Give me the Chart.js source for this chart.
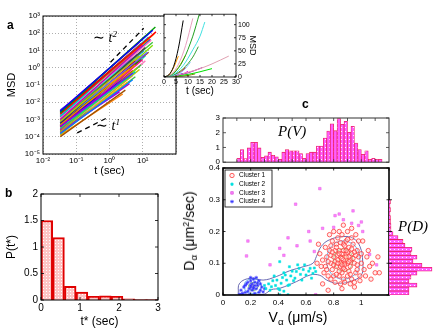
<!DOCTYPE html>
<html>
<head>
<meta charset="utf-8">
<script src="https://cdn.jsdelivr.net/npm/chart.js@4.4.1/dist/chart.umd.min.js"></script>
<style>
body{margin:0;background:#fff;width:443px;height:332px;position:relative;overflow:hidden}
canvas{position:absolute}
.s{position:absolute;font-family:"Liberation Sans",Arial,sans-serif;line-height:1;white-space:nowrap;color:#000}
.m{font-family:"Liberation Serif","Times New Roman",serif;font-style:italic}
.up{font-size:0.65em;position:relative;top:-0.55em}
.dn{font-size:0.7em;position:relative;top:0.35em}
</style>
</head>
<body>
<canvas id="ca" width="180" height="182" style="left:0;top:0"></canvas>
<canvas id="ci" width="100" height="92" style="left:160px;top:8px"></canvas>
<canvas id="cb" width="165" height="147" style="left:0;top:185px"></canvas>
<canvas id="cv" width="215" height="60" style="left:180px;top:110px"></canvas>
<canvas id="cs" width="215" height="172" style="left:180px;top:160px"></canvas>
<canvas id="cd" width="58" height="172" style="left:385px;top:160px"></canvas>

<div class="s" style="left:7px;top:19px;font-size:12px;font-weight:bold">a</div>
<div class="s" style="left:5px;top:187px;font-size:12px;font-weight:bold">b</div>
<div class="s" style="left:302px;top:98px;font-size:12px;font-weight:bold">c</div>
<div class="s m" style="left:93px;top:31px;font-size:14px"><span style="font-style:normal">∼</span> t<span class="up">2</span></div>
<div class="s m" style="left:96px;top:119px;font-size:14px"><span style="font-style:normal">∼</span> t<span class="up">1</span></div>
<div class="s m" style="left:278px;top:124px;font-size:15px">P(V)</div>
<div class="s m" style="left:398px;top:219px;font-size:15px">P(D)</div>
<div class="s" style="left:189px;top:231px;font-size:14px;transform:translate(-50%,-50%) rotate(-90deg)">D<span class="dn">α</span> (μm<span class="up">2</span>/sec)</div>
<div class="s" style="left:298px;top:310px;font-size:14px;transform:translateX(-50%)">V<span class="dn">α</span> (μm/s)</div>

<script>
// ---- panel a : MSD curves, log-log  [t start, msd start, t end, msd end]
const msdLines = [
  [0.033,3e-3,20,150],[0.033,2.5e-3,24,230],[0.033,2e-3,25,120],[0.033,1.5e-3,15,60],
  [0.033,1e-3,10,20],[0.033,8e-4,8,5],[0.033,6e-4,12,15],[0.033,5e-4,6,1.5],
  [0.033,4e-4,5,0.5],[0.033,3e-4,4,0.3],[0.033,2.5e-4,10,3],[0.033,2e-4,7,1],
  [0.033,1.5e-4,5,0.2],[0.033,1e-4,3,0.05],[0.033,1.2e-3,18,40],[0.033,9e-4,20,30],
  [0.033,7e-4,14,8],[0.033,2.2e-3,9,25],[0.033,1.8e-3,6,4],[0.033,1.1e-3,4,0.8],
  [0.033,6e-4,3,0.25],[0.033,5e-4,9,3],[0.033,3.5e-4,12,6],[0.033,2.8e-4,6,0.6],
  [0.033,1.8e-4,4,0.12],[0.033,1.3e-4,8,0.8],[0.033,2.6e-3,12,70],[0.033,1.6e-3,22,90],
  [0.033,1.4e-3,7,6],[0.033,7.5e-4,5,1.2],[0.033,4.5e-4,4.5,0.4],[0.04,1.3e-3,16,50],
  [0.04,9e-4,11,10],[0.04,6e-4,7,2],[0.04,3e-4,5,0.35],[0.04,2e-4,9,1.5],
  [0.05,1.5e-3,13,35],[0.05,1e-3,6,2.5],[0.05,5e-4,10,4],[0.05,3e-4,3.5,0.15],
  [0.066,2e-3,17,45],[0.066,1e-3,8,3],[0.066,6e-4,5,0.7],[0.066,4e-4,12,5],
  [0.033,3.2e-3,8,30],[0.033,2.9e-3,5,6],[0.033,1.9e-3,3,1.2],[0.033,1.2e-4,2.5,0.03],
  [0.033,2.2e-4,2,0.04],[0.033,9e-4,2.5,0.3],[0.04,1.7e-3,4,2],[0.05,7e-4,20,20],
  [0.033,3.5e-3,4,4],[0.033,4e-4,15,8],[0.033,2.4e-4,12,2.5],[0.033,1.7e-4,6,0.3]
];
const slopeTwo = [[1.07,2.1],[10.7,195]];
const slopeOne = [[0.107,1.66e-4],[0.93,1.38e-3]];
const msdTicks = [1e-5,1e-4,1e-3,1e-2,1e-1,1,10,100,1000];
const msdTickLabels = ['10⁻⁵','10⁻⁴','10⁻³','10⁻²','10⁻¹','10⁰','10¹','10²','10³'];
const tTicks = [0.01,0.1,1,10,100];
const tTickLabels = ['10⁻²','10⁻¹','10⁰','10¹',''];
const palette = ['#0000ff','#00a000','#ff0000','#00c0c0','#c000c0','#c0c000','#404040','#ff8000',
  '#8000ff','#00e080','#ff0080','#80e000','#0080ff','#a05000','#ff80c0','#40c040','#6060ff',
  '#c00000','#00ffff','#ffb000'];

// ---- inset : linear MSD
const insetCurves = [
  [[0,0],[2,4],[4,20],[6,55],[8,108]],
  [[0,0],[3,5],[6,24],[9,60],[12,112]],
  [[0,0],[4,7],[8,32],[12,78],[14.7,120]],
  [[0,0],[4,5],[8,22],[12,52],[15,78],[17,105]],
  [[0,0],[2,4],[4,18],[6,40]],
  [[0,0],[3,4],[6,18],[9,42]],
  [[0,0],[4,4],[8,16],[12,38],[14.3,58]],
  [[0,0],[4,3],[8,12],[11,28]],
  [[0,0],[5,3],[10,9],[15,16],[20,25],[27,40]],
  [[0,0],[5,3],[10,8],[16,18]],
  [[0,0],[5,2],[10,5],[15,10],[20,16]],
  [[0,0],[4,3],[7,10],[9,18]],
  [[0,0],[5,1],[10,3],[13,6]],
  [[0,0],[3,1],[6,4],[8,7]],
  [[0,0],[4,2],[8,6],[10,11]]
];
const insetColors = ['#000000','#e8a0c0','#20a020','#40e0e0','#ff9900','#c0c000','#30a030','#80c0ff',
  '#e0a0b0','#a000a0','#00e000','#ff0000','#808000','#0000ff','#ff00ff'];

// ---- panel b : P(t*)
const tStarCenters = [0.15,0.45,0.75,1.05,1.35,1.65,1.95,2.25,2.55,2.85];
const tStarP = [1.5,1.18,0.26,0.15,0.07,0.08,0.07,0.02,0.01,0.01];
const pTicks = [0,0.5,1,1.5,2];
const pTickLabels = ['0','0.5','1','1.5','2'];

// ---- panel c : P(V), P(D), scatter
const pV = [0.27,0.86,0.25,0.97,1.35,1.35,0.97,0.33,0.43,0.68,0.47,0.37,0.2,0.68,0.86,0.78,0.78,
  0.78,0.58,0.27,0.58,0.68,0.68,1.1,1.1,1.64,2.12,2.6,2.14,2.96,2.57,2.77,2.03,2.44,1.3,0.86,
  0.53,0.78,0.2,0.27,0.2,0.2];
const pD = [20,20,28,20,22,28,43,33,24,28,22,23,16,14,9,4,2,2,1.5,1.5,1,1.5,1,1.5];

const cluster1 = [[0.87,0.11],[0.85,0.12],[0.9,0.1],[0.82,0.09],[0.93,0.13],[0.88,0.08],[0.8,0.12],
  [0.95,0.1],[0.84,0.14],[0.91,0.15],[0.86,0.07],[0.78,0.1],[0.98,0.12],[0.89,0.13],[0.83,0.11],
  [0.92,0.09],[0.81,0.14],[0.96,0.07],[0.87,0.16],[0.75,0.12],[0.9,0.06],[0.84,0.06],[0.79,0.08],
  [1.0,0.1],[0.94,0.16],[0.86,0.13],[0.88,0.1],[0.82,0.16],[0.77,0.14],[0.97,0.14],[0.85,0.09],
  [0.91,0.12],[0.8,0.06],[0.93,0.05],[0.87,0.05],[0.74,0.09],[1.02,0.08],[0.99,0.06],[0.76,0.06],
  [0.89,0.17],[0.83,0.18],[0.93,0.18],[0.86,0.19],[0.79,0.17],[0.72,0.11],[0.73,0.07],[1.04,0.12],
  [1.03,0.06],[0.95,0.04],[0.88,0.04],[0.81,0.04],[0.9,0.2],[0.84,0.2],[0.96,0.19],[0.77,0.19],
  [0.7,0.13],[0.71,0.09],[1.06,0.09],[1.05,0.14],[0.98,0.17],[0.92,0.11],[0.85,0.1],[0.89,0.12],
  [0.86,0.115],[0.88,0.095],[0.83,0.125],[0.9,0.135],[0.87,0.085],[0.81,0.105],[0.94,0.115],
  [0.8,0.095],[0.96,0.125],[0.84,0.075],[0.91,0.075],[0.78,0.125],[0.87,0.14],[0.93,0.145],
  [0.82,0.15],[0.97,0.095],[0.76,0.105],[0.99,0.045],[0.92,0.035],[0.85,0.035],[0.78,0.05],
  [0.74,0.15],[0.8,0.2],[0.87,0.22],[0.93,0.21],[1.01,0.17],[1.08,0.1],[1.1,0.07],[1.12,0.12],
  [0.69,0.16],[0.68,0.1],[0.72,0.035],[1.07,0.05],[0.95,0.025],[0.86,0.02],[0.76,0.015],[1.13,0.07],
  [0.83,0.1],[0.91,0.105],[0.86,0.095],[0.89,0.14],[0.84,0.13],[0.95,0.135],[0.79,0.135],[0.92,0.065],
  [0.82,0.065],[0.88,0.155],[0.97,0.08],[0.75,0.08],[1.0,0.13],[0.85,0.165],[0.9,0.175],[0.78,0.155]];
const cluster2 = [[0.3,0.03],[0.31,0.02],[0.33,0.035],[0.34,0.015],[0.35,0.026],[0.36,0.045],
  [0.37,0.06],[0.38,0.03],[0.39,0.047],[0.4,0.02],[0.41,0.016],[0.42,0.037],[0.43,0.055],
  [0.44,0.07],[0.45,0.063],[0.46,0.047],[0.47,0.03],[0.48,0.089],[0.48,0.032],[0.49,0.06],
  [0.5,0.075],[0.51,0.045],[0.52,0.053],[0.53,0.074],[0.54,0.095],[0.55,0.084],[0.56,0.065],
  [0.57,0.047],[0.58,0.08],[0.59,0.095],[0.6,0.063],[0.62,0.075],[0.63,0.084],[0.64,0.053],
  [0.65,0.068],[0.67,0.074],[0.66,0.085],[0.41,0.105],[0.41,0.001],[0.47,0.001],[0.44,0.012]];
const cluster3 = [[0.7,0.335],[0.525,0.286],[0.94,0.265],[0.81,0.25],[0.84,0.255],[0.87,0.237],
  [0.93,0.226],[0.98,0.219],[1.01,0.2],[0.18,0.17],[0.17,0.123],[0.47,0.18],[0.535,0.155],
  [0.63,0.17],[0.66,0.137],[0.41,0.147],[0.34,0.095],[0.8,0.213],[1.06,0.128],[1.11,0.095],
  [0.67,0.001],[0.72,0.21],[0.62,0.2],[0.44,0.125],[1.0,0.23]];
const cluster4 = [[0.22,0.025],[0.2,0.03],[0.24,0.02],[0.21,0.035],[0.23,0.04],[0.19,0.02],
  [0.25,0.03],[0.18,0.012],[0.16,0.008],[0.14,0.005],[0.13,0.015],[0.15,0.025],[0.17,0.035],
  [0.26,0.045],[0.27,0.015],[0.28,0.025],[0.2,0.045],[0.22,0.05],[0.24,0.055],[0.12,0.002],
  [0.14,0.001],[0.19,0.001],[0.23,0.005],[0.26,0.008],[0.3,0.02],[0.21,0.015],[0.23,0.03],
  [0.22,0.02],[0.2,0.025],[0.25,0.038],[0.18,0.04],[0.16,0.03],[0.27,0.035],[0.29,0.01],[0.2,0.055]];
const clusterNames = ['Cluster 1','Cluster 2','Cluster 3','Cluster 4'];

const contourOuter = [[0.11,0.003],[0.12,0.037],[0.2,0.053],[0.29,0.047],[0.385,0.058],[0.48,0.076],
  [0.58,0.089],[0.65,0.1],[0.675,0.121],[0.71,0.153],[0.77,0.174],[0.87,0.184],[0.94,0.179],
  [0.99,0.153],[1.01,0.105],[1.0,0.063],[0.915,0.042],[0.82,0.037],[0.75,0.047],[0.70,0.062],
  [0.63,0.063],[0.53,0.042],[0.41,0.021],[0.35,0.017],[0.32,0.008],[0.29,0.002],[0.11,0.003]];
const contourBlue1 = [[0.99,0.11],[0.97,0.145],[0.92,0.165],[0.86,0.17],[0.8,0.16],[0.76,0.135],
  [0.75,0.105],[0.77,0.075],[0.82,0.055],[0.88,0.05],[0.94,0.06],[0.98,0.08],[0.99,0.11]];
const contourGreen1 = [[0.94,0.11],[0.92,0.135],[0.87,0.145],[0.82,0.135],[0.8,0.11],[0.82,0.085],
  [0.87,0.075],[0.92,0.085],[0.94,0.11]];
const contourYellow1 = [[0.9,0.11],[0.88,0.122],[0.86,0.122],[0.84,0.11],[0.86,0.098],[0.88,0.098],[0.9,0.11]];
const contourBlue4 = [[0.28,0.027],[0.26,0.045],[0.22,0.05],[0.17,0.045],[0.155,0.027],[0.17,0.01],
  [0.22,0.005],[0.26,0.01],[0.28,0.027]];
const contourGreen4 = [[0.255,0.027],[0.24,0.038],[0.22,0.04],[0.195,0.036],[0.185,0.027],
  [0.195,0.017],[0.22,0.014],[0.24,0.017],[0.255,0.027]];
const contourYellow4 = [[0.235,0.027],[0.22,0.033],[0.205,0.027],[0.22,0.021],[0.235,0.027]];

const vTicks = [0,0.2,0.4,0.6,0.8,1,1.2];
const vTickLabels = ['0','0.2','0.4','0.6','0.8','1',''];
const dTicks = [0,0.1,0.2,0.3,0.4];
const dTickLabels = ['0','0.1','0.2','0.3','0.4'];
const pvTicks = [0,1,2,3];
const pvTickLabels = ['0','1','2','3'];

Chart.defaults.font.family = '"Liberation Sans", Arial, sans-serif';
Chart.defaults.color = '#000';
Chart.defaults.animation = false;
Chart.defaults.responsive = false;
Chart.defaults.events = [];
Chart.defaults.plugins.legend.display = false;
Chart.defaults.plugins.tooltip.enabled = false;

// box round the plot area, with inward ticks
const frame = {
  id: 'frame',
  beforeDraw(chart, args, o) {
    if (!o.fill) return;
    const a = chart.chartArea, ctx = chart.ctx;
    ctx.save(); ctx.fillStyle = o.fill; ctx.fillRect(a.left, a.top, a.width, a.height); ctx.restore();
  },
  afterDraw(chart, args, o) {
    if (!o.width) return;
    const ctx = chart.ctx, a = chart.chartArea, len = o.tick || 0;
    ctx.save();
    ctx.strokeStyle = o.color || '#000';
    ctx.lineWidth = 0.8;
    ctx.beginPath();
    if (len) {
      for (const id of ['x', 'y']) {
        const s = chart.scales[id];
        for (const t of s.ticks) {
          const p = s.getPixelForValue(t.value);
          if (id === 'x') { ctx.moveTo(p, a.bottom); ctx.lineTo(p, a.bottom - len); ctx.moveTo(p, a.top); ctx.lineTo(p, a.top + len); }
          else { ctx.moveTo(a.left, p); ctx.lineTo(a.left + len, p); ctx.moveTo(a.right, p); ctx.lineTo(a.right - len, p); }
        }
      }
    }
    ctx.stroke();
    ctx.lineWidth = o.width;
    ctx.strokeRect(a.left, a.top, a.width, a.height);
    ctx.restore();
  }
};
Chart.register(frame);

function dotPattern(bg, dot, step) {
  const c = document.createElement('canvas');
  c.width = c.height = step;
  const g = c.getContext('2d');
  g.fillStyle = bg; g.fillRect(0, 0, step, step);
  g.fillStyle = dot; g.fillRect(1, 1, 1, 1);
  return g.createPattern(c, 'repeat');
}
const pts = arr => arr.map(p => ({x: p[0], y: p[1]}));
const tickFont = size => ({font: {size: size}, color: '#000'});
const fixW = w => s => { s.width = w; };
const fixH = h => s => { s.height = h; };
const setTicks = list => s => { s.ticks = list.map(v => ({value: v})); };
const labelFrom = (vals, labels) => v => { const i = vals.indexOf(v); return i < 0 ? '' : labels[i]; };
const noGrid = {display: false, drawTicks: false};

// ---------- panel a
const aSets = msdLines.map((l, i) => ({
  data: [{x: l[0], y: l[1]}, {x: l[2], y: l[3]}],
  showLine: true, borderColor: palette[i % palette.length], borderWidth: 1.4, pointRadius: 0
}));
[slopeTwo, slopeOne].forEach(s => aSets.push({
  data: pts(s), showLine: true, borderColor: '#000', borderWidth: 1.3, borderDash: [5, 4], pointRadius: 0
}));
new Chart(document.getElementById('ca'), {
  type: 'scatter',
  data: {datasets: aSets},
  options: {
    layout: {padding: {top: 16, right: 4}},
    plugins: {frame: {width: 1}},
    scales: {
      x: {type: 'logarithmic', min: 0.01, max: 100, afterFit: fixH(28), afterBuildTicks: setTicks(tTicks),
        ticks: {...tickFont(8), autoSkip: false, maxRotation: 0, padding: 2, callback: labelFrom(tTicks, tTickLabels)},
        grid: {color: '#999', lineWidth: 0.8, drawTicks: false}, border: {display: false, dash: [1, 2]},
        title: {display: true, text: 't (sec)', font: {size: 11}, padding: {top: 0, bottom: 4}}},
      y: {type: 'logarithmic', min: 1e-5, max: 1e3, afterFit: fixW(43), afterBuildTicks: setTicks(msdTicks),
        ticks: {...tickFont(8), autoSkip: false, padding: 3, callback: labelFrom(msdTicks, msdTickLabels)},
        grid: {color: '#999', lineWidth: 0.8, drawTicks: false}, border: {display: false, dash: [1, 2]},
        title: {display: true, text: 'MSD', font: {size: 11}, padding: {top: 5, bottom: 0}}}
    }
  }
});

// ---------- inset
new Chart(document.getElementById('ci'), {
  type: 'scatter',
  data: {datasets: insetCurves.map((c, i) => ({
    data: pts(c), showLine: true, borderColor: insetColors[i], borderWidth: 1,
    pointRadius: 0, cubicInterpolationMode: 'monotone'
  }))},
  options: {
    layout: {padding: {top: 3, left: 4}},
    plugins: {frame: {width: 0.8, tick: 2, fill: '#fff'}},
    scales: {
      x: {type: 'linear', min: 0, max: 30, afterFit: fixH(23), afterBuildTicks: setTicks([0,5,10,15,20,25,30]),
        ticks: {...tickFont(7), maxRotation: 0, padding: 1}, grid: noGrid, border: {display: false},
        title: {display: true, text: 't (sec)', font: {size: 10}, padding: {top: 0, bottom: 3}}},
      y: {type: 'linear', position: 'right', min: 0, max: 120, afterFit: fixW(24), afterBuildTicks: setTicks([0,25,50,75,100]),
        ticks: {...tickFont(7), padding: 2}, grid: noGrid, border: {display: false},
        title: {display: true, text: 'MSD', font: {size: 9}, padding: {top: 2, bottom: 0}}}
    }
  }
});

// ---------- panel b
new Chart(document.getElementById('cb'), {
  type: 'bar',
  data: {datasets: [{
    data: tStarCenters.map((c, i) => ({x: c, y: tStarP[i]})),
    backgroundColor: dotPattern('#ffc4c4', '#ffffff', 3), borderColor: '#e00000', borderWidth: 2,
    barPercentage: 1, categoryPercentage: 1
  }]},
  options: {
    layout: {padding: {top: 7, right: 7}},
    plugins: {frame: {width: 1, tick: 3}},
    scales: {
      x: {type: 'linear', offset: false, min: 0, max: 3, afterFit: fixH(32), afterBuildTicks: setTicks([0,1,2,3]),
        ticks: {...tickFont(10), maxRotation: 0, padding: 2}, grid: noGrid, border: {display: false},
        title: {display: true, text: 't* (sec)', font: {size: 12}, padding: {top: 0, bottom: 3}}},
      y: {type: 'linear', min: 0, max: 2, afterFit: fixW(41), afterBuildTicks: setTicks(pTicks),
        ticks: {...tickFont(10), padding: 3, callback: labelFrom(pTicks, pTickLabels)}, grid: noGrid, border: {display: false},
        title: {display: true, text: 'P(t*)', font: {size: 12}, padding: {top: 4, bottom: 0}}}
    }
  }
});

// ---------- panel c, top : P(V)
const magenta = dotPattern('#ff5cff', '#ffffff', 4);
new Chart(document.getElementById('cv'), {
  type: 'bar',
  data: {datasets: [{
    data: pV.map((h, i) => ({x: 0.1125 + i * 0.025, y: h})),
    backgroundColor: magenta, borderColor: '#ee2266', borderWidth: 0.8,
    barPercentage: 1, categoryPercentage: 1
  }]},
  options: {
    layout: {padding: {top: 8, right: 6}},
    plugins: {frame: {width: 1, tick: 3, color: '#333'}},
    scales: {
      x: {type: 'linear', offset: false, min: 0, max: 1.2, afterFit: fixH(2),
        afterBuildTicks: setTicks([0.1,0.2,0.3,0.4,0.5,0.6,0.7,0.8,0.9,1,1.1]),
        ticks: {display: false}, grid: noGrid, border: {display: false}},
      y: {type: 'linear', min: 0, max: 3, afterFit: fixW(43), afterBuildTicks: setTicks(pvTicks),
        ticks: {...tickFont(8), padding: 3, callback: labelFrom(pvTicks, pvTickLabels)},
        grid: noGrid, border: {display: false}}
    }
  }
});

// ---------- panel c, scatter
const contourSet = (c, color, w) => ({
  data: pts(c), showLine: true, borderColor: color, borderWidth: w, pointRadius: 0, tension: 0.4, order: 10
});
const clusterLegend = {
  id: 'clusterLegend',
  afterDatasetsDraw(chart) {
    const ctx = chart.ctx, a = chart.chartArea;
    const x0 = a.left + 2, y0 = a.top + 2, w = 47, h = 37;
    ctx.save();
    ctx.fillStyle = '#fff'; ctx.fillRect(x0, y0, w, h);
    ctx.strokeStyle = '#000'; ctx.lineWidth = 0.8; ctx.strokeRect(x0, y0, w, h);
    ctx.font = '6.5px "Liberation Sans", Arial, sans-serif';
    ctx.textBaseline = 'middle';
    clusterNames.forEach((name, i) => {
      const y = y0 + 5.5 + i * 8.7;
      const ds = chart.data.datasets[i];
      ctx.fillStyle = ds.backgroundColor; ctx.strokeStyle = ds.borderColor;
      Chart.helpers.drawPoint(ctx, {pointStyle: ds.pointStyle, radius: ds.pointRadius, rotation: 0, borderWidth: ds.borderWidth}, x0 + 7, y);
      ctx.fillStyle = '#000';
      ctx.fillText(name, x0 + 14, y);
    });
    ctx.restore();
  }
};
new Chart(document.getElementById('cs'), {
  type: 'scatter',
  data: {datasets: [
    {data: pts(cluster1), pointStyle: 'circle', pointRadius: 2.2, backgroundColor: 'rgba(255,210,210,0.4)', borderColor: '#ff3a3a', borderWidth: 0.8, order: 1},
    {data: pts(cluster2), pointStyle: 'rect', pointRadius: 1.5, backgroundColor: '#00e0e0', borderColor: '#00e0e0', borderWidth: 0.5, order: 2},
    {data: pts(cluster3), pointStyle: 'rect', pointRadius: 1.8, backgroundColor: '#ff80ff', borderColor: '#e060e0', borderWidth: 0.5, order: 3},
    {data: pts(cluster4), pointStyle: 'star', pointRadius: 1.8, backgroundColor: '#3030ff', borderColor: '#3030ff', borderWidth: 0.7, order: 4},
    contourSet(contourOuter, '#5a5aa8', 0.9),
    contourSet(contourBlue1, '#55aaee', 0.9),
    contourSet(contourGreen1, '#7cc860', 0.9),
    contourSet(contourYellow1, '#e0d050', 0.9),
    contourSet(contourBlue4, '#55aaee', 0.9),
    contourSet(contourGreen4, '#7cc860', 0.9),
    contourSet(contourYellow4, '#e0d050', 0.9)
  ]},
  options: {
    layout: {padding: {top: 8, right: 6}},
    plugins: {frame: {width: 1.6, tick: 2.5}},
    scales: {
      x: {type: 'linear', min: 0, max: 1.2, afterFit: fixH(37), afterBuildTicks: setTicks(vTicks),
        ticks: {...tickFont(8), maxRotation: 0, padding: 3, callback: labelFrom(vTicks, vTickLabels)},
        grid: noGrid, border: {display: false}},
      y: {type: 'linear', min: 0, max: 0.4, afterFit: fixW(43), afterBuildTicks: setTicks(dTicks),
        ticks: {...tickFont(8), padding: 3, callback: labelFrom(dTicks, dTickLabels)},
        grid: noGrid, border: {display: false}}
    }
  },
  plugins: [clusterLegend]
});

// ---------- panel c, right : P(D)
const dAxisTicks = {
  id: 'dAxisTicks',
  afterDraw(chart) {
    const ctx = chart.ctx, a = chart.chartArea, s = chart.scales.y;
    ctx.save(); ctx.strokeStyle = '#000'; ctx.lineWidth = 0.8; ctx.beginPath();
    [0.1, 0.2, 0.3].forEach(v => { const p = s.getPixelForValue(v); ctx.moveTo(a.left, p); ctx.lineTo(a.left + 3, p); });
    ctx.stroke(); ctx.restore();
  }
};
new Chart(document.getElementById('cd'), {
  type: 'bar',
  data: {datasets: [{
    data: pD.map((w, i) => ({x: w, y: 0.00625 + i * 0.0125})),
    backgroundColor: magenta, borderColor: '#ee2266', borderWidth: 0.8,
    barPercentage: 1, categoryPercentage: 1
  }]},
  options: {
    indexAxis: 'y',
    layout: {padding: {left: 4, top: 8, bottom: 37, right: 0}},
    scales: {
      x: {type: 'linear', min: 0, max: 54, display: false},
      y: {type: 'linear', offset: false, min: 0, max: 0.4, display: false}
    }
  },
  plugins: [dAxisTicks]
});
</script>
</body>
</html>
